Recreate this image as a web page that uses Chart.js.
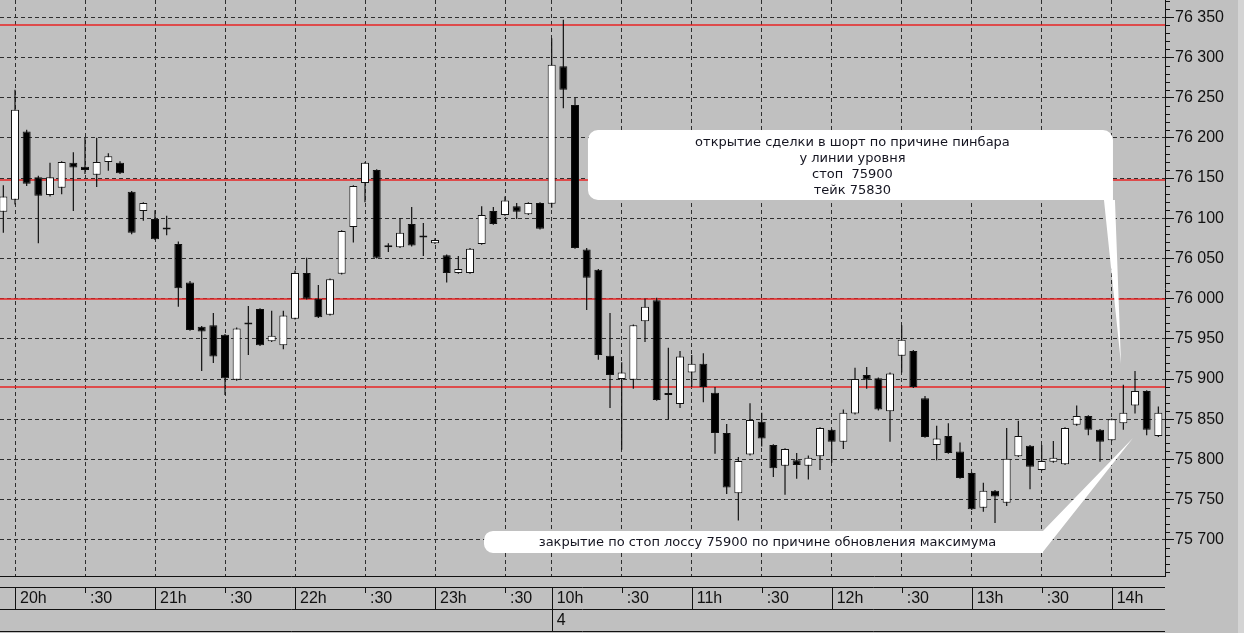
<!DOCTYPE html>
<html>
<head>
<meta charset="utf-8">
<title>M5</title>
<script src="https://cdn.jsdelivr.net/npm/chart.js@4.4.1/dist/chart.umd.min.js"></script>
<style>
	html, body { margin: 0; padding: 0; background: #c0c0c0; overflow: hidden; }
	#wrap { position: relative; width: 1244px; height: 633px; }
	#edge { position: absolute; left: 1238px; top: 0; width: 6px; height: 633px; background: #d4d4d4; }
</style>
</head>
<body>
<div id="wrap">
	<canvas id="mycanvas" width="1244" height="633"></canvas>
	<div id="edge"></div>
</div>
<script>
// 5-minute candles, evening session then next morning
var times = [
	'19:55','20:00','20:05','20:10','20:15','20:20','20:25','20:30','20:35','20:40',
	'20:45','20:50','20:55','21:00','21:05','21:10','21:15','21:20','21:25','21:30',
	'21:35','21:40','21:45','21:50','21:55','22:00','22:05','22:10','22:15','22:20',
	'22:25','22:30','22:35','22:40','22:45','22:50','22:55','23:00','23:05','23:10',
	'23:15','23:20','23:25','23:30','23:35','23:40','23:45','10:00','10:05','10:10',
	'10:15','10:20','10:25','10:30','10:35','10:40','10:45','10:50','10:55','11:00',
	'11:05','11:10','11:15','11:20','11:25','11:30','11:35','11:40','11:45','11:50',
	'11:55','12:00','12:05','12:10','12:15','12:20','12:25','12:30','12:35','12:40',
	'12:45','12:50','12:55','13:00','13:05','13:10','13:15','13:20','13:25','13:30',
	'13:35','13:40','13:45','13:50','13:55','14:00','14:05','14:10','14:15','14:20'
];

var open = [
	76108, 76123, 76208, 76151, 76129, 76138, 76169, 76164, 76154, 76170,
	76169, 76133, 76109, 76099, 76087, 76068, 76020, 75965, 75967, 75955,
	75899, 75969, 75987, 75947, 75942, 75975, 76032, 76000, 75980, 76031,
	76089, 76144, 76160, 76064, 76064, 76093, 76077, 76069, 76054, 76032,
	76032, 76068, 76109, 76104, 76115, 76105, 76119, 76118, 76289, 76241,
	76061, 76036, 75929, 75900, 75899, 75972, 75998, 75880, 75869, 75908,
	75919, 75883, 75833, 75758, 75806, 75847, 75818, 75792, 75799, 75792,
	75804, 75837, 75822, 75857, 75905, 75901, 75860, 75929, 75935, 75876,
	75818, 75829, 75810, 75783, 75740, 75761, 75746, 75804, 75817, 75787,
	75797, 75794, 75843, 75854, 75837, 75824, 75845, 75867, 75885, 75829
];
var high = [
	76141, 76260, 76210, 76153, 76169, 76171, 76182, 76200, 76200, 76181,
	76171, 76134, 76120, 76110, 76103, 76071, 76022, 75966, 75982, 75956,
	75964, 75991, 75988, 75985, 75985, 76035, 76051, 76017, 76025, 76085,
	76141, 76170, 76161, 76069, 76100, 76114, 76094, 76075, 76055, 76053,
	76063, 76115, 76114, 76127, 76119, 76120, 76120, 76324, 76347, 76250,
	76063, 76037, 75982, 75921, 75968, 76000, 76001, 75939, 75935, 75930,
	75932, 75890, 75844, 75803, 75870, 75858, 75819, 75814, 75808, 75805,
	75840, 75838, 75862, 75914, 75915, 75902, 75908, 75967, 75936, 75879,
	75842, 75845, 75821, 75784, 75771, 75762, 75839, 75848, 75818, 75818,
	75823, 75840, 75867, 75855, 75838, 75851, 75893, 75910, 75886, 75866
];
var low = [
	76082, 76117, 76140, 76069, 76127, 76130, 76109, 76155, 76139, 76159,
	76155, 76080, 76097, 76073, 76079, 75990, 75960, 75910, 75920, 75880,
	75898, 75930, 75941, 75946, 75937, 75974, 75999, 75976, 75979, 76030,
	76070, 76120, 76050, 76058, 76063, 76065, 76053, 76068, 76020, 76031,
	76031, 76067, 76092, 76103, 76099, 76104, 76086, 76113, 76237, 76062,
	75986, 75924, 75864, 75812, 75888, 75946, 75873, 75850, 75864, 75890,
	75871, 75807, 75757, 75724, 75805, 75816, 75778, 75756, 75776, 75775,
	75787, 75796, 75813, 75856, 75888, 75861, 75822, 75908, 75889, 75827,
	75799, 75807, 75776, 75737, 75735, 75721, 75742, 75803, 75763, 75786,
	75796, 75793, 75842, 75830, 75797, 75823, 75837, 75857, 75830, 75828
];
var close = [
	76127, 76235, 76143, 76128, 76151, 76170, 76163, 76160, 76170, 76177,
	76156, 76082, 76119, 76074, 76086, 76013, 75961, 75959, 75928, 75901,
	75963, 75968, 75942, 75954, 75979, 76032, 76000, 75977, 76024, 76084,
	76140, 76169, 76051, 76064, 76082, 76066, 76076, 76073, 76032, 76037,
	76062, 76104, 76093, 76122, 76108, 76119, 76087, 76291, 76260, 76063,
	76026, 75930, 75905, 75908, 75967, 75990, 75874, 75880, 75928, 75919,
	75890, 75833, 75765, 75798, 75849, 75826, 75789, 75813, 75793, 75802,
	75839, 75822, 75858, 75900, 75899, 75862, 75907, 75949, 75890, 75828,
	75826, 75808, 75777, 75738, 75761, 75754, 75801, 75829, 75791, 75798,
	75802, 75839, 75854, 75837, 75822, 75850, 75858, 75885, 75837, 75858
];

// horizontal levels drawn in red
var levels = [76340, 76148, 76000, 75890];

// price axis labels
var priceTicks = [75700, 75750, 75800, 75850, 75900, 75950, 76000,
	76050, 76100, 76150, 76200, 76250, 76300, 76350];
var newDayLabel = '4';

// comments on the chart (anchored in data units)
var notes = [
	{
		lines: ['открытие сделки в шорт по причине пинбара', 'у линии уровня', 'стоп  75900', 'тейк 75830'],
		x1: 50.11, x2: 95.11, yTop: 76209.8, yBottom: 76122.8,
		radii: [10, 10, 0, 10],
		pointer: [[94.34, 76122.8], [95.28, 76122.8], [95.8, 75918.8]],
		textDx: 2, textTop: 13, lineStep: 16
	},
	{
		lines: ['закрытие по стоп лоссу 75900 по причине обновления максимума'],
		x1: 41.2, x2: 89.11, yTop: 75711, yBottom: 75683.6,
		radii: [9, 0, 0, 9],
		pointer: [[89.11, 75711], [96.83, 75826.7], [89.03, 75683.6]],
		textDx: 4, textTop: 11.5, lineStep: 16
	}
];

function hourOf(k) { return parseInt(times[k].split(':')[0], 10); }
function isNewDay(k) { return k > 0 && hourOf(k) < hourOf(k - 1); }

var xTicks = [];
for (var k = 0; k < times.length; k++) {
	var mm = times[k].split(':')[1];
	if (mm === '00' || mm === '30') xTicks.push(k);
}

function timeLabel(k) {
	var mm = times[k].split(':')[1];
	var lab = mm === '00' ? hourOf(k) + 'h' : ':' + mm;
	return isNewDay(k) ? [lab, newDayLabel] : lab;
}

function priceLabel(v) {
	var s = String(v);
	return s.slice(0, s.length - 3) + ' ' + s.slice(-3);
}

var bodies = [], wicks = [], bodyColors = [];
for (var i = 0; i < times.length; i++) {
	bodies.push({x: i, y: [open[i], close[i]]});
	wicks.push({x: i, y: [low[i], high[i]]});
	bodyColors.push(close[i] >= open[i] ? '#ffffff' : '#000000');
}

function noPadding(s) {
	s.paddingTop = 0;
	s.paddingBottom = 0;
	s.paddingLeft = 0;
	s.paddingRight = 0;
}

var levelLines = {
	id: 'levelLines',
	beforeDatasetsDraw: function(chart) {
		var ctx = chart.ctx, a = chart.chartArea, ys = chart.scales.y;
		ctx.save();
		ctx.strokeStyle = '#e82424';
		ctx.lineWidth = 1.5;
		levels.forEach(function(v) {
			var y = Math.round(ys.getPixelForValue(v));
			ctx.beginPath();
			ctx.moveTo(a.left, y);
			ctx.lineTo(a.right, y);
			ctx.stroke();
		});
		ctx.restore();
	}
};

var axisExtras = {
	id: 'axisExtras',
	afterDraw: function(chart) {
		var ctx = chart.ctx, a = chart.chartArea, xs = chart.scales.x, ys = chart.scales.y;
		ctx.save();
		ctx.strokeStyle = '#111';
		ctx.lineWidth = 1;
		ctx.beginPath();
		// minor price ticks every 10
		for (var v = 75660; v <= 76370; v += 10) {
			if (v % 50 === 0) continue;
			var y = Math.round(ys.getPixelForValue(v)) + 0.5;
			ctx.moveTo(a.right, y);
			ctx.lineTo(a.right + 5, y);
		}
		// time rows under the plot
		var r1 = a.bottom + 12, r2 = r1 + 22, r3 = r2 + 22;
		[r1, r2, r3].forEach(function(r) {
			ctx.moveTo(a.left, r - 0.5);
			ctx.lineTo(a.right, r - 0.5);
		});
		xTicks.forEach(function(k) {
			var px = Math.round(xs.getPixelForValue(k)) + 0.5;
			var end = isNewDay(k) ? r3 : (times[k].split(':')[1] === '00' ? r2 : r1 + 5);
			ctx.moveTo(px, r1);
			ctx.lineTo(px, end);
		});
		ctx.stroke();
		ctx.restore();
	}
};

var callouts = {
	id: 'callouts',
	afterDraw: function(chart) {
		var ctx = chart.ctx, xs = chart.scales.x, ys = chart.scales.y;
		ctx.save();
		notes.forEach(function(n) {
			var l = xs.getPixelForValue(n.x1), r = xs.getPixelForValue(n.x2);
			var t = ys.getPixelForValue(n.yTop), b = ys.getPixelForValue(n.yBottom);
			ctx.beginPath();
			ctx.roundRect(l, t, r - l, b - t, n.radii);
			n.pointer.forEach(function(p, j) {
				var px = xs.getPixelForValue(p[0]), py = ys.getPixelForValue(p[1]);
				if (j === 0) ctx.moveTo(px, py); else ctx.lineTo(px, py);
			});
			ctx.closePath();
			ctx.fillStyle = '#ffffff';
			ctx.fill();
			ctx.fillStyle = '#141420';
			ctx.font = '13px "DejaVu Sans"';
			ctx.textAlign = 'center';
			ctx.textBaseline = 'middle';
			n.lines.forEach(function(s, j) {
				ctx.fillText(s, (l + r) / 2 + n.textDx, t + n.textTop + j * n.lineStep);
			});
		});
		ctx.restore();
	}
};

var ctx = document.getElementById('mycanvas');

var candleChart = new Chart(ctx, {
	type: 'bar',
	data: {
		datasets: [
			{
				label: 'body',
				data: bodies,
				backgroundColor: bodyColors,
				borderColor: '#111111',
				borderWidth: 1,
				borderSkipped: false,
				barThickness: 8,
				maxBarThickness: 8,
				minBarLength: 2,
				inflateAmount: 0,
				grouped: false,
				order: 1
			},
			{
				label: 'wick',
				data: wicks,
				backgroundColor: '#111111',
				borderWidth: 0,
				barThickness: 1.2,
				maxBarThickness: 1.2,
				inflateAmount: 0,
				grouped: false,
				order: 2
			}
		]
	},
	options: {
		responsive: false,
		devicePixelRatio: 1,
		animation: false,
		events: [],
		layout: { padding: 0 },
		plugins: {
			legend: { display: false },
			tooltip: { enabled: false }
		},
		scales: {
			x: {
				type: 'linear',
				min: -0.286,
				max: 99.57,
				offset: false,
				afterBuildTicks: function(s) {
					s.ticks = xTicks.map(function(v) { return {value: v}; });
				},
				afterFit: function(s) { s.height = 57; noPadding(s); },
				grid: { offset: false, color: '#2e2e2e', drawTicks: false },
				border: { color: '#111', width: 1, dash: [4, 3] },
				ticks: {
					autoSkip: false,
					maxRotation: 0,
					align: 'start',
					labelOffset: 5,
					padding: 12,
					color: '#111',
					font: { family: 'Liberation Sans', size: 16, lineHeight: 1.375 },
					callback: function(v) { return timeLabel(v); }
				}
			},
			y: {
				position: 'right',
				min: 75655,
				max: 76371.5,
				beginAtZero: false,
				afterBuildTicks: function(s) {
					s.ticks = priceTicks.map(function(v) { return {value: v}; });
				},
				afterFit: function(s) { s.width = 79; noPadding(s); },
				grid: { color: '#2e2e2e', tickColor: '#111', tickLength: 9 },
				border: { color: '#111', width: 1, dash: [4, 3] },
				ticks: {
					autoSkip: false,
					padding: 1,
					color: '#111',
					font: { family: 'Liberation Sans', size: 16 },
					callback: function(v) { return priceLabel(v); }
				}
			}
		}
	},
	plugins: [levelLines, axisExtras, callouts]
});
</script>
</body>
</html>
